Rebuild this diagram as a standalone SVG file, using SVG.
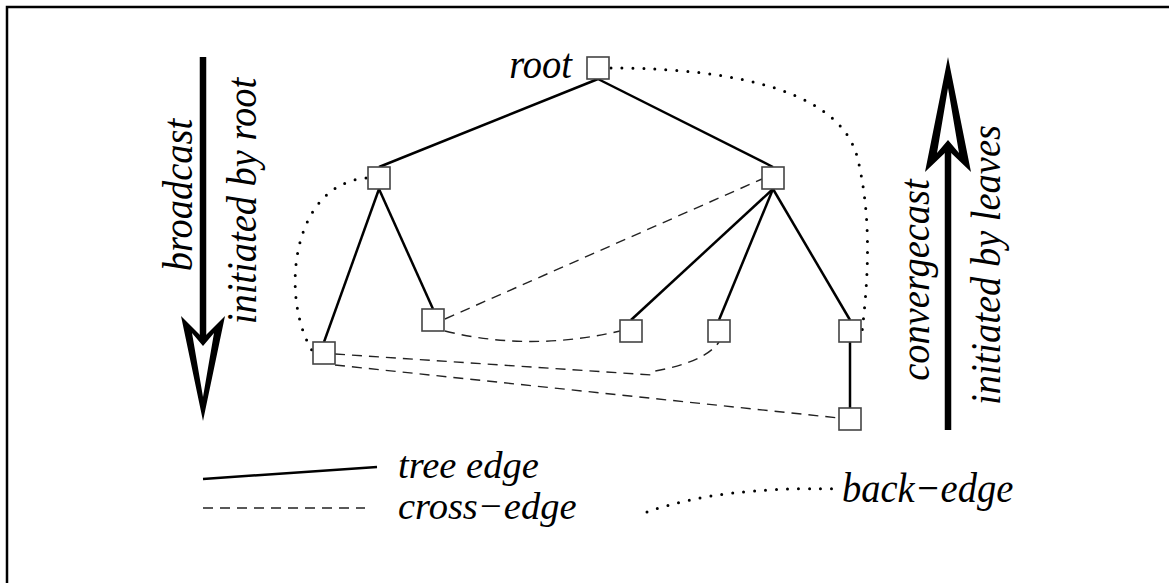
<svg xmlns="http://www.w3.org/2000/svg" width="1169" height="583" viewBox="0 0 1169 583">
<style>
.t{font-family:"Liberation Serif","Times New Roman",serif;font-style:italic;font-size:38.5px;fill:#000}
.node rect{fill:#fff;stroke:#444;stroke-width:1.6}
.tree{stroke:#000;stroke-width:2.5;fill:none}
.cross{stroke:#222;stroke-width:1.4;fill:none;stroke-dasharray:10 7}
.back{stroke:#000;stroke-width:3;fill:none;stroke-dasharray:0 11;stroke-linecap:round}
</style>
<rect width="1169" height="583" fill="#fff"/>
<path d="M7,583 V7 H1169" fill="none" stroke="#000" stroke-width="2.5"/>
<g id="connectors">
<path class="tree" d="M598,79 L379,167"/>
<path class="tree" d="M598,79 L773,167"/>
<path class="tree" d="M379,189 L324,342"/>
<path class="tree" d="M379,189 L433,309"/>
<path class="tree" d="M773,189 L631,320"/>
<path class="tree" d="M773,189 L719,320"/>
<path class="tree" d="M773,189 L850,320"/>
<path class="tree" d="M850,342 L850,408"/>
<path class="cross" d="M445,319 L762,179"/>
<path class="cross" d="M445,331 Q530,352 620,331"/>
<path class="cross" d="M335,354 L652,375 L655,371 Q705,362 719,342"/>
<path class="cross" d="M335,365 L839,418"/>
<path class="back" d="M366,178 C290,185 280,300 313,352"/>
<path class="back" d="M611,68 C700,68 840,80 858,160 C872,220 868,280 862,332"/>
</g>
<g id="root" class="node"><rect x="587" y="57" width="22" height="22"/></g>
<g id="n1" class="node"><rect x="368" y="167" width="22" height="22"/></g>
<g id="n2" class="node"><rect x="762" y="167" width="22" height="22"/></g>
<g id="n3" class="node"><rect x="313" y="342" width="22" height="22"/></g>
<g id="n4" class="node"><rect x="422" y="309" width="22" height="22"/></g>
<g id="n5" class="node"><rect x="620" y="320" width="22" height="22"/></g>
<g id="n6" class="node"><rect x="708" y="320" width="22" height="22"/></g>
<g id="n7" class="node"><rect x="839" y="320" width="22" height="22"/></g>
<g id="n8" class="node"><rect x="839" y="408" width="22" height="22"/></g>
<text class="t" transform="translate(572,78) scale(1,1.08)" text-anchor="end">root</text>
<g id="broadcast-arrow">
<line x1="203" y1="57" x2="203" y2="340" stroke="#000" stroke-width="6.5"/>
<polygon points="181,316 203,421 225,316 203,338" fill="#000"/>
<polygon points="192,333 203,397 214,333 203,346" fill="#fff"/>
</g>
<text class="t" transform="translate(192,195) rotate(-90) scale(1,1.08)" text-anchor="middle">broadcast</text>
<text class="t" transform="translate(256,201) rotate(-90) scale(1,1.08)" text-anchor="middle">initiated by root</text>
<g id="convergecast-arrow">
<line x1="948" y1="430" x2="948" y2="146" stroke="#000" stroke-width="6.5"/>
<polygon points="925,172 948,57 971,172 948,150" fill="#000"/>
<polygon points="937,153 948,88 959,153 948,140" fill="#fff"/>
</g>
<text class="t" transform="translate(929,280) rotate(-90) scale(1,1.08)" text-anchor="middle">convergecast</text>
<text class="t" transform="translate(1000,265) rotate(-90) scale(1,1.08)" text-anchor="middle">initiated by leaves</text>
<g id="legend">
<path class="tree" d="M203,479 L377,467"/>
<text class="t" x="398" y="478">tree edge</text>
<path class="cross" d="M203,508 L365,508"/>
<text class="t" x="398" y="519">cross−edge</text>
<path class="back" d="M647,512 Q720,486 838,489"/>
<text class="t" transform="translate(842,502) scale(1,1.08)">back−edge</text>
</g>
</svg>
